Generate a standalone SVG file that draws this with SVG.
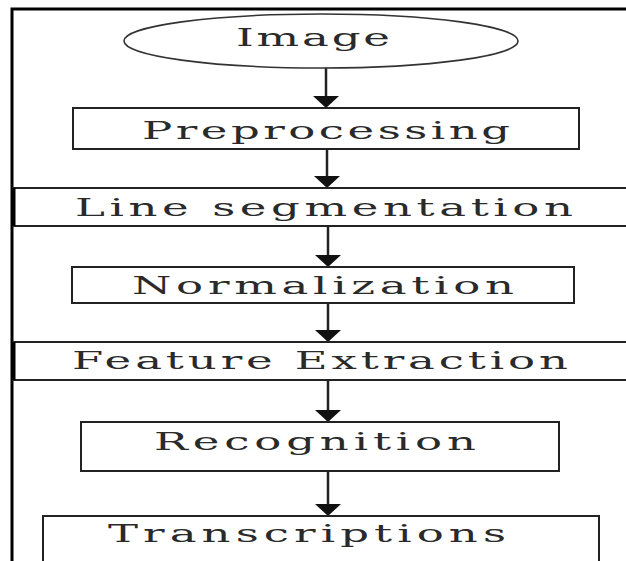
<svg xmlns="http://www.w3.org/2000/svg" width="626" height="561" viewBox="0 0 626 561">
<style>
.box{fill:#fff;stroke:#222;stroke-width:2}
.lbl{font-family:"DejaVu Serif","Liberation Serif",serif;font-size:25px;fill:#2a2a2a;text-anchor:start}
.arr{stroke:#222;stroke-width:2.5;fill:none}
</style>
<defs>
<marker id="ah" viewBox="0 0 12 26" refX="0" refY="13" markerWidth="12" markerHeight="26" markerUnits="userSpaceOnUse" orient="auto">
<path d="M0,0 L12,13 L0,26 Z" fill="#111"/>
</marker>
</defs>
<rect width="626" height="561" fill="#fff"/>
<g id="frame">
<path d="M12,561 L12,9 L626,9" fill="none" stroke="#000" stroke-width="3"/>
</g>
<g id="connectors">
<line class="arr" x1="326" y1="68" x2="326" y2="96" marker-end="url(#ah)"/>
<line class="arr" x1="327" y1="149" x2="327" y2="176" marker-end="url(#ah)"/>
<line class="arr" x1="328" y1="226" x2="328" y2="255" marker-end="url(#ah)"/>
<line class="arr" x1="328" y1="303" x2="328" y2="330" marker-end="url(#ah)"/>
<line class="arr" x1="328" y1="380" x2="328" y2="410" marker-end="url(#ah)"/>
<line class="arr" x1="328" y1="471" x2="328" y2="504" marker-end="url(#ah)"/>
</g>
<g id="image">
<ellipse cx="321" cy="41" rx="197" ry="27" fill="#fff" stroke="#333" stroke-width="1.6"/>
<text class="lbl" transform="scale(1.8,1)" x="131.11" y="46" font-size="26" textLength="85.56" lengthAdjust="spacing">Image</text>
</g>
<g id="preprocessing">
<rect class="box" x="73" y="108" width="506" height="41"/>
<text class="lbl" transform="scale(1.8,1)" x="78.89" y="139" font-size="27" textLength="204.44" lengthAdjust="spacing">Preprocessing</text>
</g>
<g id="line-segmentation">
<rect class="box" x="13" y="188" width="620" height="38"/>
<line x1="13.5" y1="188" x2="13.5" y2="226" stroke="#000" stroke-width="4"/>
<text class="lbl" transform="scale(1.8,1)" x="41.67" y="216" textLength="276.67" lengthAdjust="spacing">Line segmentation</text>
</g>
<g id="normalization">
<rect class="box" x="72" y="267" width="502" height="36"/>
<text class="lbl" transform="scale(1.8,1)" x="73.33" y="294" textLength="212.22" lengthAdjust="spacing">Normalization</text>
</g>
<g id="feature-extraction">
<rect class="box" x="13" y="342" width="620" height="38"/>
<line x1="13.5" y1="342" x2="13.5" y2="380" stroke="#000" stroke-width="4"/>
<text class="lbl" transform="scale(1.8,1)" x="40" y="369" textLength="275.56" lengthAdjust="spacing">Feature Extraction</text>
</g>
<g id="recognition">
<rect class="box" x="81" y="422" width="478" height="49"/>
<text class="lbl" transform="scale(1.8,1)" x="85.56" y="450" textLength="178.89" lengthAdjust="spacing">Recognition</text>
</g>
<g id="transcriptions">
<rect class="box" x="43" y="516" width="556" height="60"/>
<text class="lbl" transform="scale(1.8,1)" x="60" y="542" textLength="221.11" lengthAdjust="spacing">Transcriptions</text>
</g>
</svg>
